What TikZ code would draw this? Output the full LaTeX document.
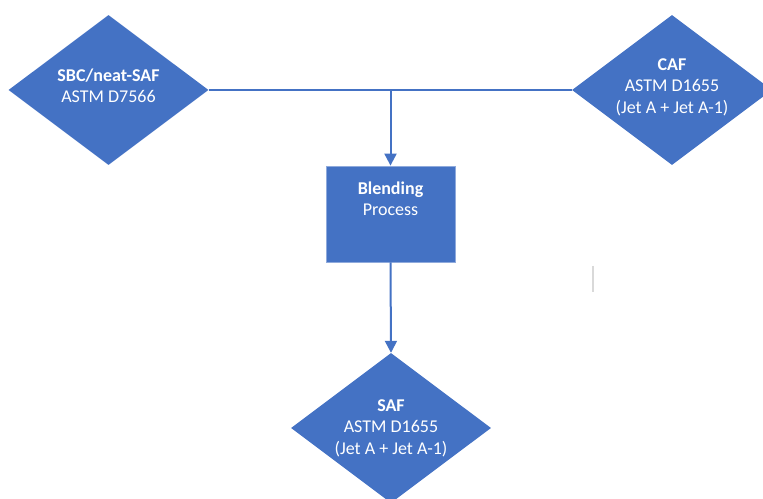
\documentclass[tikz,border=0pt]{standalone}
\usepackage{fontspec}
\setmainfont{Carlito}
\usetikzlibrary{shapes.geometric,arrows.meta}
\definecolor{officeblue}{RGB}{68,114,196}
\definecolor{edgeblue}{RGB}{143,170,220}
\begin{document}
\begin{tikzpicture}[x=1pt,y=1pt,
  fuel/.style={diamond,fill=officeblue,inner sep=0pt,minimum width=200pt,minimum height=150pt},
  fueltext/.style={text=white,align=center,font=\fontsize{18}{21.5}\selectfont},
  procbox/.style={rectangle,fill=officeblue,draw=edgeblue,line width=0.8pt,minimum width=129pt,minimum height=96pt,inner sep=0pt},
  link/.style={draw=officeblue,line width=2pt},
  flow/.style={link,-{Triangle[width=12pt,length=12pt]}}]
\useasboundingbox (0,0) rectangle (763,498);
\clip (0,0) rectangle (763,498);
\node[fuel,label={[fueltext,yshift=4pt]center:{\textbf{SBC/neat-SAF}\\ASTM D7566}}] (sbc) at (108.5,408) {};
\node[fuel,label={[fueltext,yshift=3pt]center:{\textbf{CAF}\\ASTM D1655\\(Jet A + Jet A-1)}}] (caf) at (672,408) {};
\node[procbox,label={[fueltext,yshift=15pt]center:{\textbf{Blending}\\Process}}] (blend) at (390.5,284) {};
\node[fuel,label={[fueltext]center:{\textbf{SAF}\\ASTM D1655\\(Jet A + Jet A-1)}}] (saf) at (391,70) {};
\coordinate (join) at (blend.north |- sbc.east);
\draw[link] (sbc.east) -- (caf.west);
\draw[flow] (join) -- (blend.north);
\draw[flow] (blend.south) -- (saf.north);
% faint vertical stroke at the right
\coordinate (tickA) at (593,232);
\coordinate (tickB) at (593,206);
\draw[black!15,line width=1.2pt] (tickA) -- (tickB);
\end{tikzpicture}
\end{document}
